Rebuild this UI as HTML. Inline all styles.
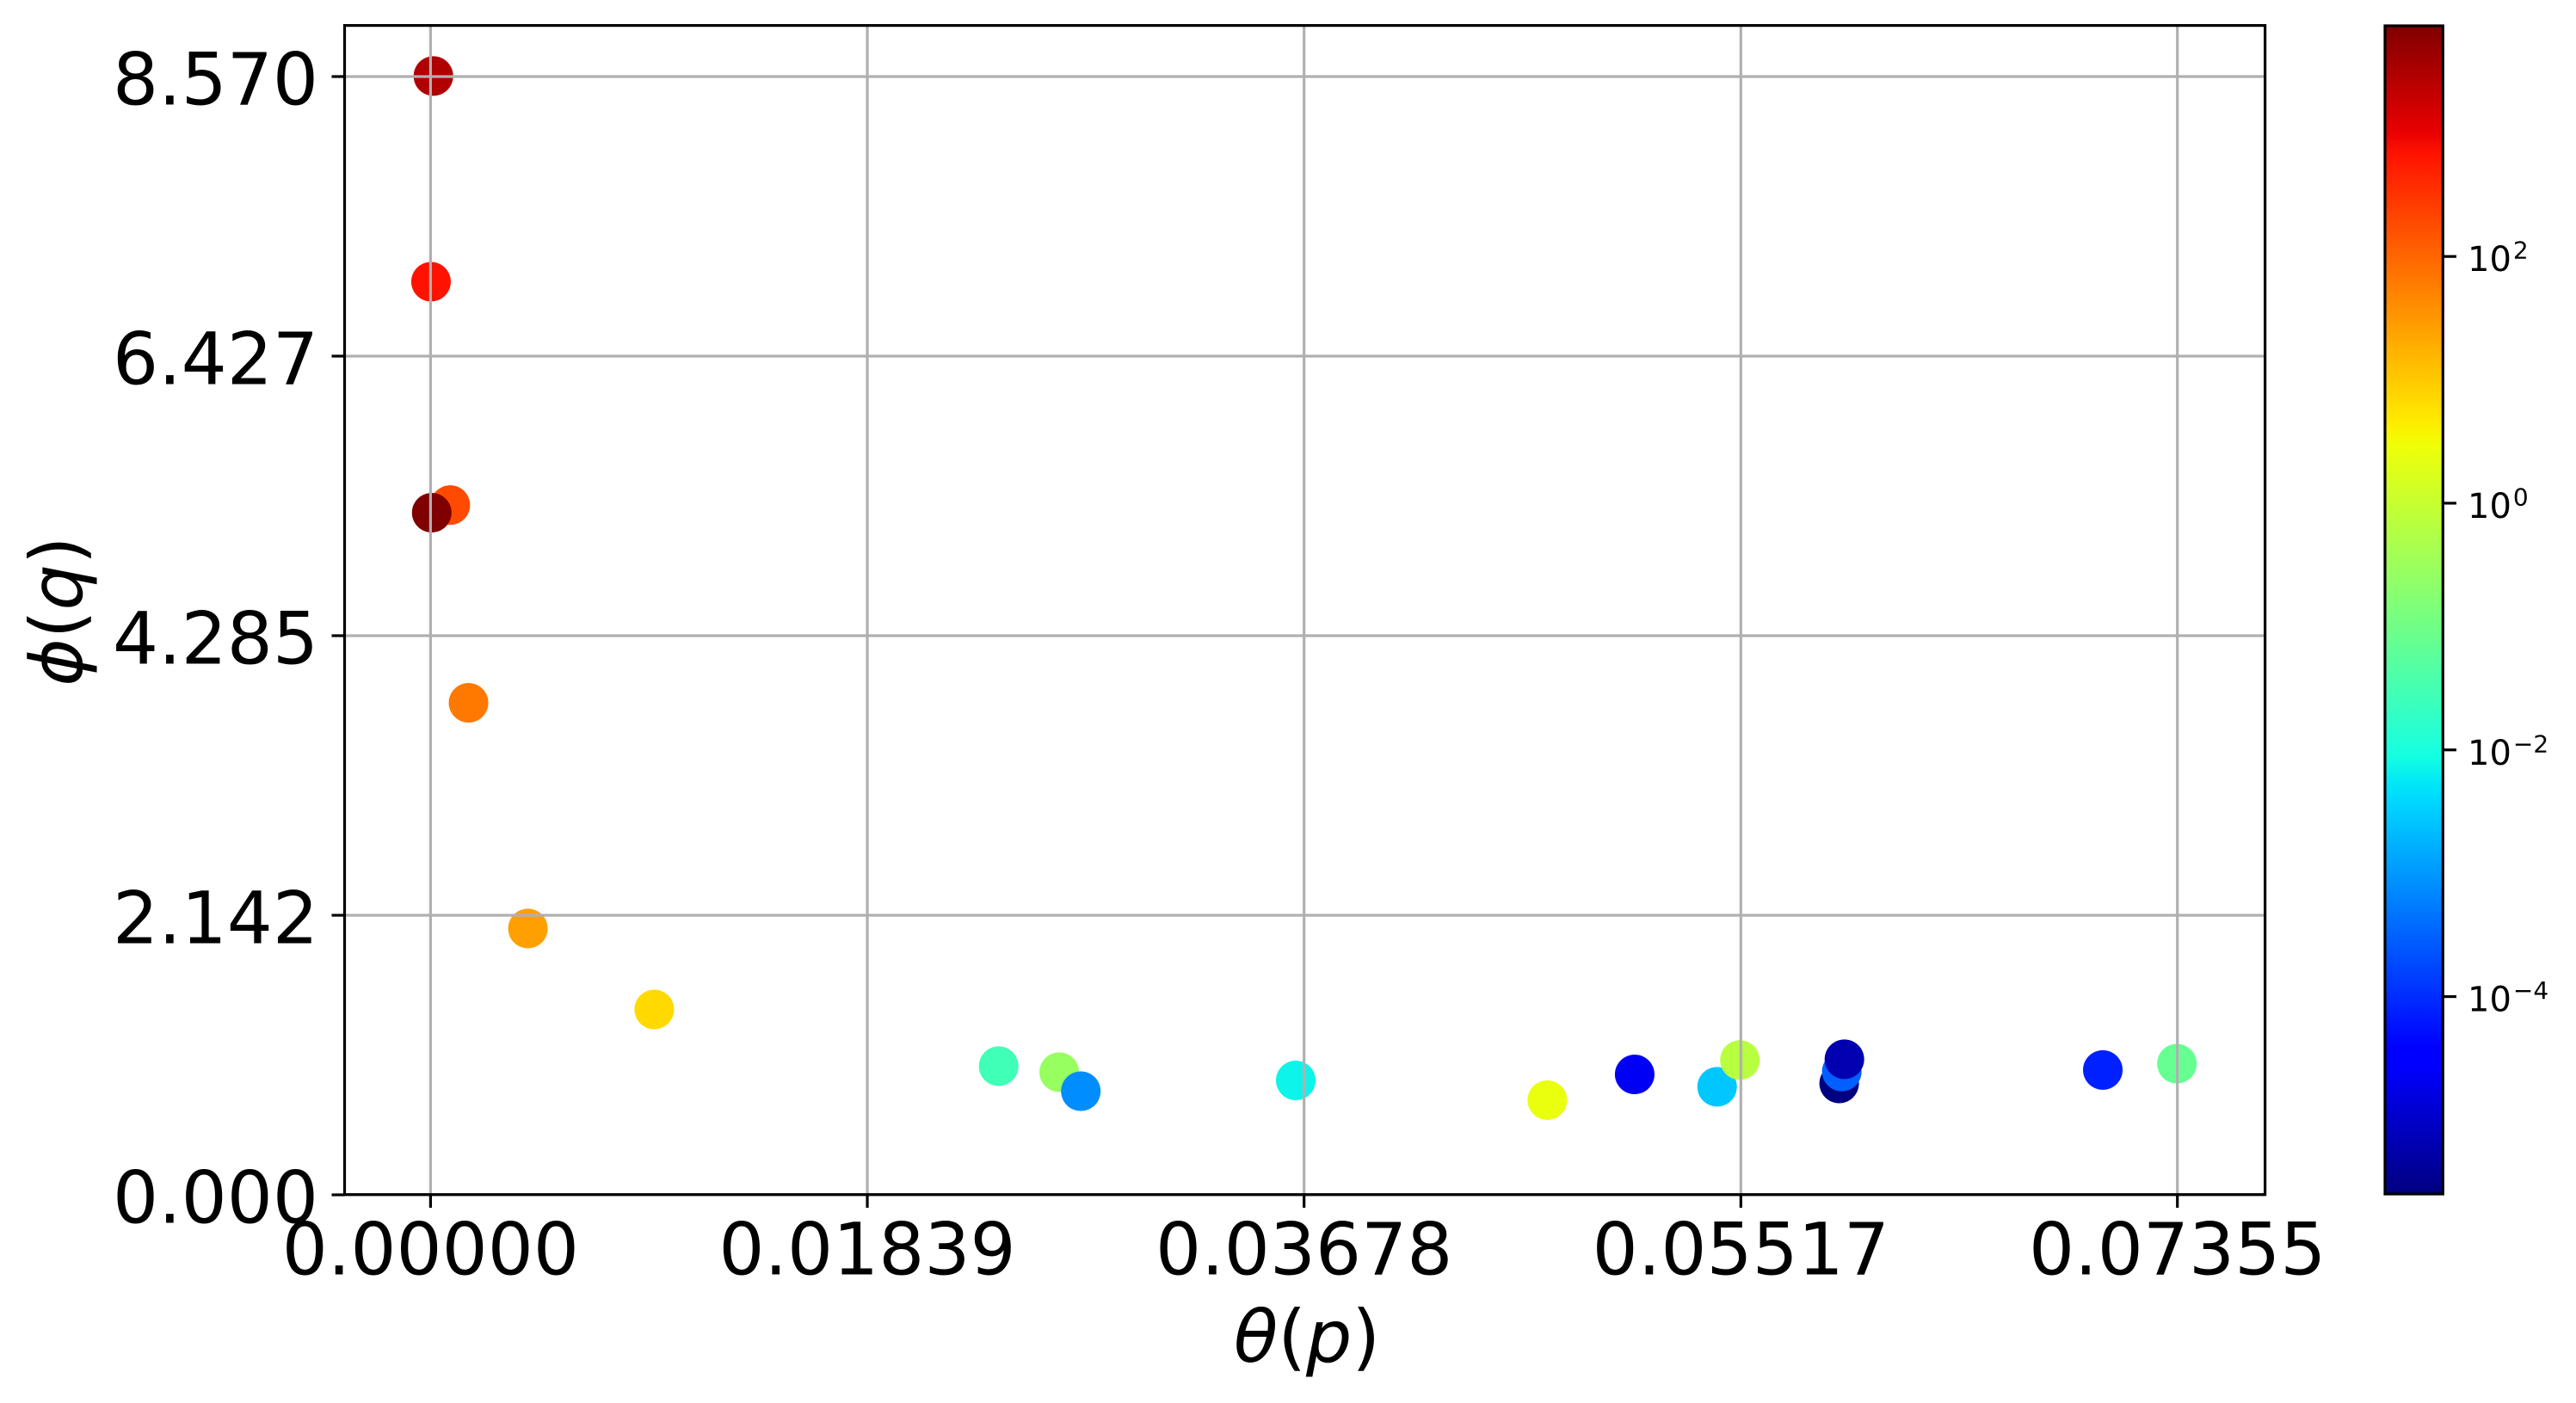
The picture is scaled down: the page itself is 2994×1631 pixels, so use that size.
<!DOCTYPE html>
<html>
<head>
<meta charset="utf-8">
<title>Scatter chart</title>
<style>
html,body{margin:0;padding:0;background:#fff;}
svg{display:block;}
text{font-family:"DejaVu Sans","Liberation Sans",sans-serif;fill:#000;}
</style>
</head>
<body>
<svg id="chart" xmlns="http://www.w3.org/2000/svg" width="2994" height="1631" viewBox="0 0 2994 1631">
<defs>
<linearGradient id="jet-gradient" x1="0" y1="1" x2="0" y2="0"></linearGradient>
<clipPath id="plot-clip"><rect x="400.5" y="29.6" width="2232.1" height="1359.1"></rect></clipPath>
</defs>
<rect x="0" y="0" width="2994" height="1631" fill="#ffffff"></rect>
<g id="points" clip-path="url(#plot-clip)"></g>
<g id="grid"></g>
<g id="xticks"></g>
<g id="yticks"></g>
<rect x="400.5" y="29.6" width="2232.1" height="1359.1" fill="none" stroke="#000" stroke-width="3.2"></rect>
<text x="1519" y="1583" font-size="84" text-anchor="middle"><tspan font-style="italic">θ</tspan>(<tspan font-style="italic">p</tspan>)</text>
<text transform="translate(95 710.5) rotate(-90)" font-size="84" text-anchor="middle"><tspan font-style="italic">ϕ</tspan>(<tspan font-style="italic">q</tspan>)</text>
<rect id="colorbar" x="2772" y="30" width="67.3" height="1358" fill="url(#jet-gradient)" stroke="#000" stroke-width="3.2"></rect>
<g id="cticks"></g>
</svg>
<script>
const xTicks = [0, 0.01839, 0.03678, 0.05517, 0.07355];
const xTickLabels = ["0.00000", "0.01839", "0.03678", "0.05517", "0.07355"];
const yTicks = [0, 2.1425, 4.285, 6.4275, 8.57];
const yTickLabels = ["0.000", "2.142", "4.285", "6.427", "8.570"];
const colorTickExponents = [2, 0, -2, -4];
const colorTickLabels = ["2", "0", "\u22122", "\u22124"];
const thetaValues = [0.00012, 0.00002, 0.00083, 0.00005, 0.00160, 0.00410, 0.00942, 0.02392, 0.02647, 0.02738, 0.03643, 0.04702, 0.05070, 0.05417, 0.05513, 0.05931, 0.05942, 0.05953, 0.07041, 0.07353];
const phiValues = [8.574, 6.998, 5.286, 5.228, 3.771, 2.041, 1.421, 0.986, 0.940, 0.794, 0.877, 0.726, 0.923, 0.828, 1.033, 0.854, 0.945, 1.039, 0.957, 1.005];
const colorLog10Values = [3.47, 2.83, 2.28, 3.87, 1.81, 1.41, 0.84, -1.55, -0.55, -3.11, -2.14, 0.41, -4.65, -2.57, -0.17, -5.6, -3.53, -5.2, -4.12, -1.11];
const colorLogMin = -5.6;
const colorLogMax = 3.87;

const NS = "http://www.w3.org/2000/svg";
function xScale(v) { return 500.4 + v * (2030.3 / 0.07355); }
function yScale(v) { return 1389 - v * (325 / 2.1425); }
function cScale(e) { return 1388 - (e - colorLogMin) * (1358 / (colorLogMax - colorLogMin)); }

function ramp(t, pts) {
  for (let i = 1; i < pts.length; i++) {
    if (t <= pts[i][0]) {
      const a = pts[i - 1], b = pts[i];
      return a[1] + (b[1] - a[1]) * (t - a[0]) / (b[0] - a[0]);
    }
  }
  return pts[pts.length - 1][1];
}
function jet(t) {
  t = Math.max(0, Math.min(1, t));
  const r = ramp(t, [[0, 0], [0.35, 0], [0.66, 1], [0.89, 1], [1, 0.5]]);
  const g = ramp(t, [[0, 0], [0.125, 0], [0.375, 1], [0.64, 1], [0.91, 0], [1, 0]]);
  const b = ramp(t, [[0, 0.5], [0.11, 1], [0.34, 1], [0.65, 0], [1, 0]]);
  return "rgb(" + Math.round(r * 255) + "," + Math.round(g * 255) + "," + Math.round(b * 255) + ")";
}
function make(tag, attrs, parent) {
  const el = document.createElementNS(NS, tag);
  for (const k in attrs) el.setAttribute(k, attrs[k]);
  parent.appendChild(el);
  return el;
}

const gradient = document.getElementById("jet-gradient");
for (const t of [0, 0.11, 0.125, 0.34, 0.35, 0.375, 0.64, 0.65, 0.66, 0.89, 0.91, 1]) {
  make("stop", { offset: t, "stop-color": jet(t) }, gradient);
}

const pointsGroup = document.getElementById("points");
thetaValues.forEach(function (theta, i) {
  const dot = make("circle", {
    cx: xScale(theta),
    cy: yScale(phiValues[i]),
    r: 23,
    fill: jet((colorLog10Values[i] - colorLogMin) / (colorLogMax - colorLogMin))
  }, pointsGroup);
  
  
});

const gridGroup = document.getElementById("grid");
const xTickGroup = document.getElementById("xticks");
const yTickGroup = document.getElementById("yticks");
xTicks.forEach(function (v, i) {
  const x = xScale(v);
  const line = make("line", { x1: x, x2: x, y1: 29.6, y2: 1388.7, stroke: "#b0b0b0", "stroke-width": 3.2 }, gridGroup);
  
  
  const tick = make("line", { x1: x, x2: x, y1: 1388.7, y2: 1404, stroke: "#000", "stroke-width": 3.2 }, xTickGroup);
  
  
  const label = make("text", { x: x, y: 1481.5, "font-size": 83.5, "text-anchor": "middle" }, xTickGroup);
  label.textContent = xTickLabels[i];
  
  
});
yTicks.forEach(function (v, i) {
  const y = yScale(v);
  const line = make("line", { x1: 400.5, x2: 2632.6, y1: y, y2: y, stroke: "#b0b0b0", "stroke-width": 3.2 }, gridGroup);
  
  
  const tick = make("line", { x1: 385.5, x2: 400.5, y1: y, y2: y, stroke: "#000", "stroke-width": 3.2 }, yTickGroup);
  
  
  const label = make("text", { x: 370, y: y + 32.5, "font-size": 83.5, "text-anchor": "end" }, yTickGroup);
  label.textContent = yTickLabels[i];
  
  
});

const colorTickGroup = document.getElementById("cticks");
colorTickExponents.forEach(function (e, i) {
  const y = cScale(e);
  const tick = make("line", { x1: 2839.3, x2: 2855, y1: y, y2: y, stroke: "#000", "stroke-width": 3.2 }, colorTickGroup);
  
  
  const label = make("text", { x: 2868, y: y + 17, "font-size": 40 }, colorTickGroup);
  
  
  const base = make("tspan", {}, label);
  base.textContent = "10";
  const sup = make("tspan", { dy: -14.5, dx: 2, "font-size": 28 }, label);
  sup.textContent = colorTickLabels[i];
});
</script>
</body>
</html>
